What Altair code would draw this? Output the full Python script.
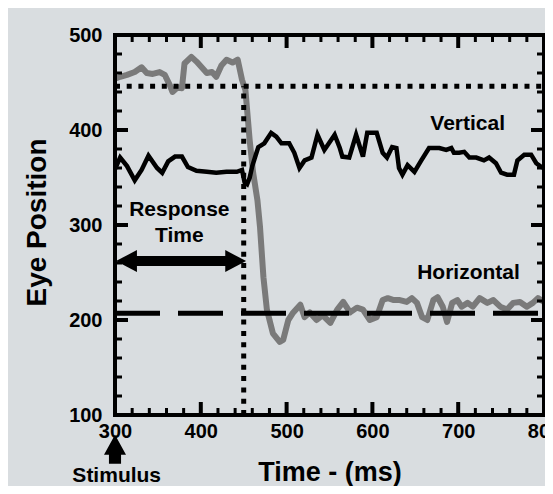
import altair as alt
import pandas as pd

# ---- data ----
h_time = [300, 306, 314, 323, 331, 337, 344, 352, 358, 364, 367, 373, 378, 381, 389, 395, 401, 407, 413, 418,
          424, 430, 437, 443, 448, 452, 457, 461, 466, 469, 473, 477, 484, 492, 496, 502, 507, 516, 521, 527,
          535, 542, 551, 559, 566, 574, 582, 589, 597, 605, 612, 618, 625, 632, 640, 646, 652, 658, 664, 671,
          676, 682, 687, 693, 699, 704, 711, 717, 725, 734, 741, 749, 757, 764, 772, 780, 787, 793, 800]
h_pos = [454, 456, 458, 461, 466, 460, 459, 461, 458, 447, 440, 445, 444, 470, 477, 472, 466, 460, 461, 456,
         468, 474, 471, 474, 453, 442, 389, 355, 326, 298, 245, 211, 186, 177, 179, 200, 207, 216, 203, 208,
         200, 205, 197, 211, 219, 208, 213, 211, 200, 203, 221, 223, 221, 221, 219, 223, 218, 203, 200, 221,
         224, 214, 198, 218, 221, 214, 218, 214, 223, 218, 221, 214, 211, 218, 219, 214, 218, 223, 219]

v_time = [300, 306, 314, 323, 331, 339, 349, 355, 362, 370, 378, 385, 395, 407, 418, 430, 442, 448, 451, 454,
          457, 460, 467, 474, 482, 488, 494, 503, 509, 515, 521, 529, 536, 544, 556, 562, 565, 573, 581, 589,
          594, 605, 612, 617, 623, 628, 631, 635, 641, 649, 657, 666, 678, 686, 692, 695, 701, 707, 713, 721,
          730, 736, 744, 750, 757, 765, 769, 777, 785, 791, 797, 800]
v_pos = [359, 371, 362, 347, 358, 373, 360, 355, 367, 372, 372, 361, 357, 356, 355, 356, 356, 358, 345, 343,
         350, 362, 382, 386, 397, 393, 386, 386, 376, 360, 368, 371, 395, 379, 395, 381, 372, 371, 395, 372,
         397, 397, 376, 371, 382, 381, 360, 353, 363, 356, 368, 381, 381, 379, 381, 376, 376, 377, 371, 371,
         368, 371, 365, 355, 353, 353, 368, 374, 374, 365, 361, 360]

x_major = [300, 400, 500, 600, 700, 800]
x_minor = [t for t in range(320, 800, 20) if t % 100 != 0]
y_major = [100, 200, 300, 400, 500]
y_minor = [v for v in range(120, 500, 20) if v % 100 != 0]

target_level = 446      # dotted horizontal
baseline_level = 207    # dashed horizontal
response_time = 450     # dotted vertical
arrow_level = 262
arrow_from, arrow_to = 314, 440

labels_text = ["Response", "Time", "Vertical", "Horizontal", "Stimulus"]
labels_t = [375, 375, 711, 712, 302]
labels_v = [310, 282, 400, 243, 29]

FONT = "Liberation Sans"
W, H = 429, 380
X0, X1, Y0, Y1 = 300, 800, 100, 500
xs = alt.Scale(domain=[X0, X1], nice=False, zero=False)
ys = alt.Scale(domain=[Y0, Y1], nice=False, zero=False)
# tick lengths (pixels) expressed in data units of each axis
PX_T = (X1 - X0) / W
PX_V = (Y1 - Y0) / H
MAJ_LEN, MIN_LEN = 13, 7

x_axis = alt.Axis(values=x_major, ticks=False, domain=False, grid=False, labelFlush=False,
                  labelOverlap=False, labelFont=FONT, labelFontWeight="bold", labelFontSize=20,
                  labelColor="black", labelPadding=6, format="d",
                  title="Time - (ms)", titleFont=FONT, titleFontWeight="bold", titleFontSize=27,
                  titleColor="black", titleY=65, titleBaseline="alphabetic")
y_axis = alt.Axis(values=y_major, ticks=False, domain=False, grid=False, labelFlush=False,
                  labelOverlap=False, labelFont=FONT, labelFontWeight="bold", labelFontSize=20,
                  labelColor="black", labelPadding=13, format="d",
                  title="Eye Position", titleFont=FONT, titleFontWeight="bold", titleFontSize=28,
                  titleColor="black", titleX=-70, titleY=187, titleBaseline="alphabetic", titleAngle=270)


def X():
    return alt.X("t:Q", scale=xs, axis=x_axis)


def Y():
    return alt.Y("v:Q", scale=ys, axis=y_axis)


hdf = pd.DataFrame({"t": h_time, "v": h_pos})
vdf = pd.DataFrame({"t": v_time, "v": v_pos})

horiz = alt.Chart(hdf).mark_line(color="#7a7a7a", strokeWidth=6, strokeJoin="round").encode(x=X(), y=Y())
vert = alt.Chart(vdf).mark_line(color="black", strokeWidth=4.5, strokeJoin="miter").encode(x=X(), y=Y())

hline_df = pd.DataFrame({"t": [X0], "t2": [X1], "v": [target_level]})
dotted_h = alt.Chart(hline_df).mark_rule(color="black", strokeWidth=5, strokeDash=[5, 6.7]).encode(
    x=X(), x2="t2:Q", y=Y())
vline_df = pd.DataFrame({"t": [response_time], "v": [Y0], "v2": [target_level]})
dotted_v = alt.Chart(vline_df).mark_rule(color="black", strokeWidth=5, strokeDash=[5, 6.3]).encode(
    x=X(), y=Y(), y2="v2:Q")
dline_df = pd.DataFrame({"t": [X0], "t2": [X1], "v": [baseline_level]})
dashed = alt.Chart(dline_df).mark_rule(color="black", strokeWidth=5, strokeDash=[45, 18]).encode(
    x=X(), x2="t2:Q", y=Y())

# double arrow (response time)
shaft_df = pd.DataFrame({"t": [arrow_from], "t2": [arrow_to], "v": [arrow_level]})
shaft = alt.Chart(shaft_df).mark_rule(color="black", strokeWidth=10).encode(x=X(), x2="t2:Q", y=Y())
lhead = alt.Chart(pd.DataFrame({"t": [arrow_from], "v": [arrow_level]})).mark_point(
    shape="M-1,0L0.9,-1L0.9,1Z", filled=True, color="black", opacity=1, size=484).encode(x=X(), y=Y())
rhead = alt.Chart(pd.DataFrame({"t": [arrow_to], "v": [arrow_level]})).mark_point(
    shape="M1,0L-0.9,-1L-0.9,1Z", filled=True, color="black", opacity=1, size=484).encode(x=X(), y=Y())
# stimulus arrow
stim = alt.Chart(pd.DataFrame({"t": [X0], "v": [64]})).mark_point(
    shape="M0,-1.32L1,0.5L0.55,0.5L0.55,1.32L-0.55,1.32L-0.55,0.5L-1,0.5Z",
    filled=True, color="black", opacity=1, size=484).encode(x=X(), y=Y())

# frame
frame_h = pd.DataFrame({"t": [X0, X0], "t2": [X1, X1], "v": [Y0, Y1]})
frame_v = pd.DataFrame({"t": [X0, X1], "v": [Y0, Y0], "v2": [Y1, Y1]})
frame = [
    alt.Chart(frame_h).mark_rule(color="black", strokeWidth=4, strokeCap="square").encode(
        x=X(), x2="t2:Q", y=Y()),
    alt.Chart(frame_v).mark_rule(color="black", strokeWidth=4, strokeCap="square").encode(
        x=X(), y=Y(), y2="v2:Q"),
]


# inward ticks on all four sides, built from the tick-value lists
def xticks(values, length):
    d = length * PX_V
    return pd.DataFrame({"t": values * 2, "v": [Y0] * len(values) + [Y1] * len(values),
                         "v2": [Y0 + d] * len(values) + [Y1 - d] * len(values)})


def yticks(values, length):
    d = length * PX_T
    return pd.DataFrame({"v": values * 2, "t": [X0] * len(values) + [X1] * len(values),
                         "t2": [X0 + d] * len(values) + [X1 - d] * len(values)})


ticks = [
    alt.Chart(xticks(x_major, MAJ_LEN)).mark_rule(color="black", strokeWidth=4).encode(
        x=X(), y=Y(), y2="v2:Q"),
    alt.Chart(xticks(x_minor, MIN_LEN)).mark_rule(color="black", strokeWidth=3).encode(
        x=X(), y=Y(), y2="v2:Q"),
    alt.Chart(yticks(y_major, MAJ_LEN)).mark_rule(color="black", strokeWidth=4).encode(
        y=Y(), x=X(), x2="t2:Q"),
    alt.Chart(yticks(y_minor, MIN_LEN)).mark_rule(color="black", strokeWidth=3).encode(
        y=Y(), x=X(), x2="t2:Q"),
]

tdf = pd.DataFrame({"t": labels_t, "v": labels_v, "label": labels_text})
texts = alt.Chart(tdf).mark_text(font=FONT, fontWeight="bold", fontSize=21, color="black",
                                 align="center", baseline="alphabetic").encode(x=X(), y=Y(), text="label:N")

chart = alt.layer(horiz, vert, dotted_h, dotted_v, dashed, shaft, lhead, rhead, stim,
                  *frame, *ticks, texts).properties(
    width=W, height=H,
    autosize=alt.AutoSizeParams(type="none"),
    padding={"left": 107, "top": 27, "right": 1, "bottom": 71},
).configure(background="#d9dde0").configure_view(strokeWidth=0, stroke=None)

chart.save("out.html", embed_options={"renderer": "svg", "actions": False})
